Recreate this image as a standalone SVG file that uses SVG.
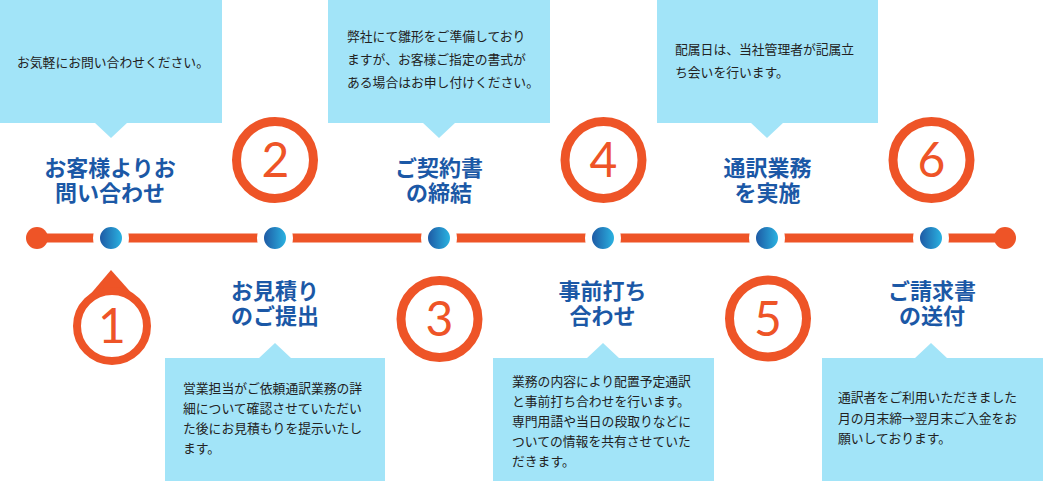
<svg xmlns="http://www.w3.org/2000/svg" width="1043" height="481" viewBox="0 0 1043 481">
<defs>
<linearGradient id="dotg" x1="0" y1="0" x2="1" y2="0">
<stop offset="0" stop-color="#1c4c9b"/>
<stop offset="1" stop-color="#2cc0ea"/>
</linearGradient>
<style>
.box{fill:#a2e4f8}
.title{font-family:"Noto Sans CJK JP","Noto Sans",sans-serif;font-weight:bold;font-size:22px;fill:#1b58a6;text-anchor:middle}
.body{font-family:"Noto Sans CJK JP","Noto Sans",sans-serif;font-size:12.8px;fill:#222}
.ring{fill:#fff;stroke:#ee5427;stroke-width:9}
.num{font-family:Lato,"Noto Sans",sans-serif;font-size:48px;fill:#ee5427;text-anchor:middle}
.dot{fill:url(#dotg);stroke:#fff;stroke-width:7}
.line{stroke:#ee5427;stroke-width:9;fill:none}
.end{fill:#ee5427}
</style>
</defs>
<rect width="1043" height="481" fill="#fff"/>

<g id="connectors">
<line class="line" x1="37" y1="238" x2="1005" y2="238"/>
<circle class="end" cx="37" cy="238" r="11"/>
<circle class="end" cx="1005" cy="238" r="11"/>
<circle class="dot" cx="111" cy="238" r="14.5"/>
<circle class="dot" cx="275" cy="238" r="14.5"/>
<circle class="dot" cx="439" cy="238" r="14.5"/>
<circle class="dot" cx="603" cy="238" r="14.5"/>
<circle class="dot" cx="767" cy="238" r="14.5"/>
<circle class="dot" cx="931" cy="238" r="14.5"/>
</g>

<g id="step1">
<rect class="box" x="0" y="0" width="222" height="123"/>
<polygon class="box" points="94,122 128,122 111,138"/>
<text class="body" x="17" y="67">お気軽にお問い合わせください。</text>
<text class="title" x="110" y="175.5">お客様よりお</text>
<text class="title" x="110" y="200.5">問い合わせ</text>
<polygon fill="#ee5427" points="111,270 88,297 135,297"/>
<circle cx="112" cy="326" r="35" fill="#fff" stroke="#ee5427" stroke-width="8"/>
<text class="num" x="112" y="343">1</text>
</g>

<g id="step2">
<circle class="ring" cx="275" cy="160" r="38.5"/>
<text class="num" x="275.5" y="177">2</text>
<text class="title" x="275" y="298.5">お見積り</text>
<text class="title" x="275" y="323.5">のご提出</text>
<rect class="box" x="165" y="358" width="220" height="123"/>
<polygon class="box" points="258,359 292,359 275,343"/>
<text class="body" x="183" y="393">営業担当がご依頼通訳業務の詳</text>
<text class="body" x="183" y="413">細について確認させていただい</text>
<text class="body" x="183" y="433">た後にお見積もりを提示いたし</text>
<text class="body" x="183" y="453">ます。</text>
</g>

<g id="step3">
<rect class="box" x="328" y="0" width="222" height="123"/>
<polygon class="box" points="422,122 456,122 439,138"/>
<text class="body" x="347" y="41">弊社にて雛形をご準備しており</text>
<text class="body" x="347" y="64">ますが、お客様ご指定の書式が</text>
<text class="body" x="347" y="87">ある場合はお申し付けください。</text>
<text class="title" x="439" y="175.5">ご契約書</text>
<text class="title" x="439" y="200.5">の締結</text>
<circle class="ring" cx="439.5" cy="319" r="38.5"/>
<text class="num" x="439.5" y="336">3</text>
</g>

<g id="step4">
<circle class="ring" cx="603.5" cy="160" r="38.5"/>
<text class="num" x="603.5" y="177">4</text>
<text class="title" x="602.5" y="298.5">事前打ち</text>
<text class="title" x="602.5" y="323.5">合わせ</text>
<rect class="box" x="493" y="358" width="221" height="123"/>
<polygon class="box" points="586,359 620,359 603,343"/>
<text class="body" x="512" y="386">業務の内容により配置予定通訳</text>
<text class="body" x="512" y="406">と事前打ち合わせを行います。</text>
<text class="body" x="512" y="426">専門用語や当日の段取りなどに</text>
<text class="body" x="512" y="446">ついての情報を共有させていた</text>
<text class="body" x="512" y="466">だきます。</text>
</g>

<g id="step5">
<rect class="box" x="657" y="0" width="221" height="123"/>
<polygon class="box" points="750,122 784,122 767,138"/>
<text class="body" x="675" y="54">配属日は、当社管理者が記属立</text>
<text class="body" x="675" y="77">ち会いを行います。</text>
<text class="title" x="767.5" y="175.5">通訳業務</text>
<text class="title" x="767.5" y="200.5">を実施</text>
<circle class="ring" cx="768" cy="318.5" r="38.5"/>
<text class="num" x="768" y="335.5">5</text>
</g>

<g id="step6">
<circle class="ring" cx="931.5" cy="160" r="38.5"/>
<text class="num" x="931.5" y="177">6</text>
<text class="title" x="932" y="298.5">ご請求書</text>
<text class="title" x="932" y="323.5">の送付</text>
<rect class="box" x="822" y="358" width="221" height="123"/>
<polygon class="box" points="914,359 948,359 931,343"/>
<text class="body" x="838" y="402">通訳者をご利用いただきました</text>
<text class="body" x="838" y="422.5">月の月末締→翌月末ご入金をお</text>
<text class="body" x="838" y="443">願いしております。</text>
</g>
</svg>
